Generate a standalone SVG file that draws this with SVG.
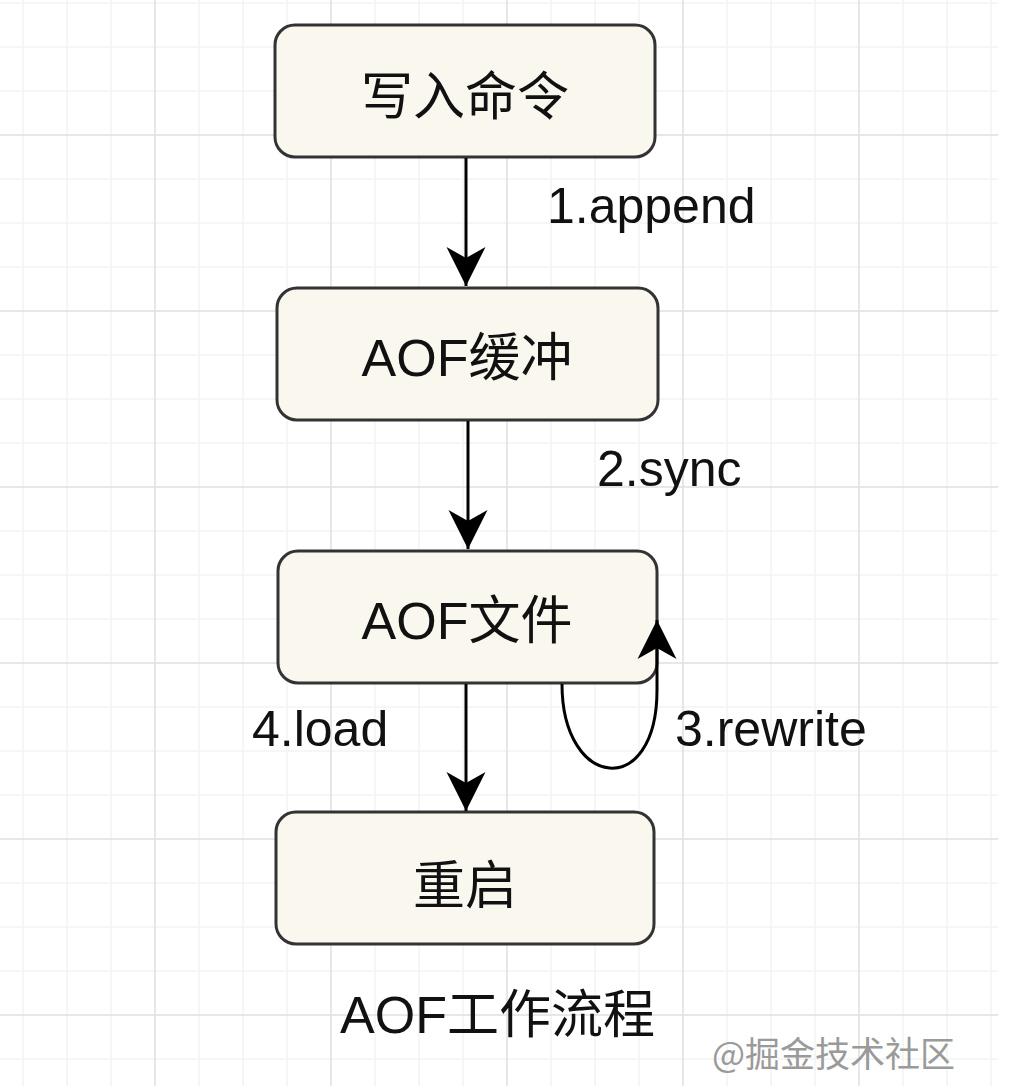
<svg xmlns="http://www.w3.org/2000/svg" width="1034" height="1086" viewBox="0 0 1034 1086">
  <defs>
    <style>
      .minor { stroke: #f3f3f3; stroke-width: 1.5; }
      .major { stroke: #e0e0e0; stroke-width: 1.5; }
      .box { fill: #f9f7ee; stroke: #333333; stroke-width: 3; }
      .t { font-family: "Liberation Sans", "Noto Sans CJK SC", sans-serif; font-size: 50px; fill: #111111; }
      .n { font-size: 52px; }
      .c { text-anchor: middle; }
      .edge { fill: none; stroke: #000000; stroke-width: 3; }
      .wm { font-family: "Noto Sans CJK SC", sans-serif; font-size: 35px; fill: #9a9a9a; }
    </style>
    <marker id="arrow" markerUnits="userSpaceOnUse" markerWidth="44" markerHeight="44" viewBox="-40 -22 44 44" refX="0" refY="0" orient="auto">
      <path d="M0,0 L-39,-19.5 L-28,0 L-39,19.5 Z" fill="#000000"/>
    </marker>
  </defs>
  <rect width="1034" height="1086" fill="#ffffff"/>
  <g id="grid">
    <g class="minor">
      <path d="M0,3H998 M0,47H998 M0,91H998 M0,179H998 M0,223H998 M0,267H998 M0,355H998 M0,399H998 M0,443H998 M0,531H998 M0,575H998 M0,619H998 M0,707H998 M0,751H998 M0,795H998 M0,883H998 M0,927H998 M0,971H998 M0,1059H998"/>
      <path d="M23,0V1086 M67,0V1086 M111,0V1086 M199,0V1086 M243,0V1086 M287,0V1086 M375,0V1086 M419,0V1086 M463,0V1086 M551,0V1086 M595,0V1086 M639,0V1086 M727,0V1086 M771,0V1086 M815,0V1086 M903,0V1086 M947,0V1086 M991,0V1086"/>
    </g>
    <g class="major">
      <path d="M0,135H998 M0,311H998 M0,487H998 M0,663H998 M0,839H998 M0,1015H998"/>
      <path d="M155,0V1086 M331,0V1086 M507,0V1086 M683,0V1086 M859,0V1086"/>
    </g>
  </g>
  <g id="node-write">
    <rect class="box" x="275" y="25" width="380" height="132" rx="20"/>
    <text class="t n c" x="465" y="115">写入命令</text>
  </g>
  <g id="node-buffer">
    <rect class="box" x="277" y="288" width="381" height="132" rx="20"/>
    <text class="t n c" x="467" y="376">AOF缓冲</text>
  </g>
  <g id="node-file">
    <rect class="box" x="278" y="551" width="379" height="132" rx="20"/>
    <text class="t n c" x="467" y="639">AOF文件</text>
  </g>
  <g id="node-restart">
    <rect class="box" x="276" y="812" width="378" height="132" rx="20"/>
    <text class="t n c" x="465" y="904">重启</text>
  </g>
  <g id="connectors">
    <path class="edge" d="M466,158 V286" marker-end="url(#arrow)"/>
    <path class="edge" d="M468,421 V549" marker-end="url(#arrow)"/>
    <path class="edge" d="M466,684 V811" marker-end="url(#arrow)"/>
    <path class="edge" d="M562,684 C562,790 657,800 657,690 L657,620" marker-end="url(#arrow)"/>
    <text class="t" x="547" y="223">1.append</text>
    <text class="t" x="597" y="486">2.sync</text>
    <text class="t" x="675" y="746">3.rewrite</text>
    <text class="t" x="252" y="746">4.load</text>
  </g>
  <text class="t n" x="340" y="1033">AOF工作流程</text>
  <text class="wm" x="712" y="1067">@掘金技术社区</text>
</svg>
